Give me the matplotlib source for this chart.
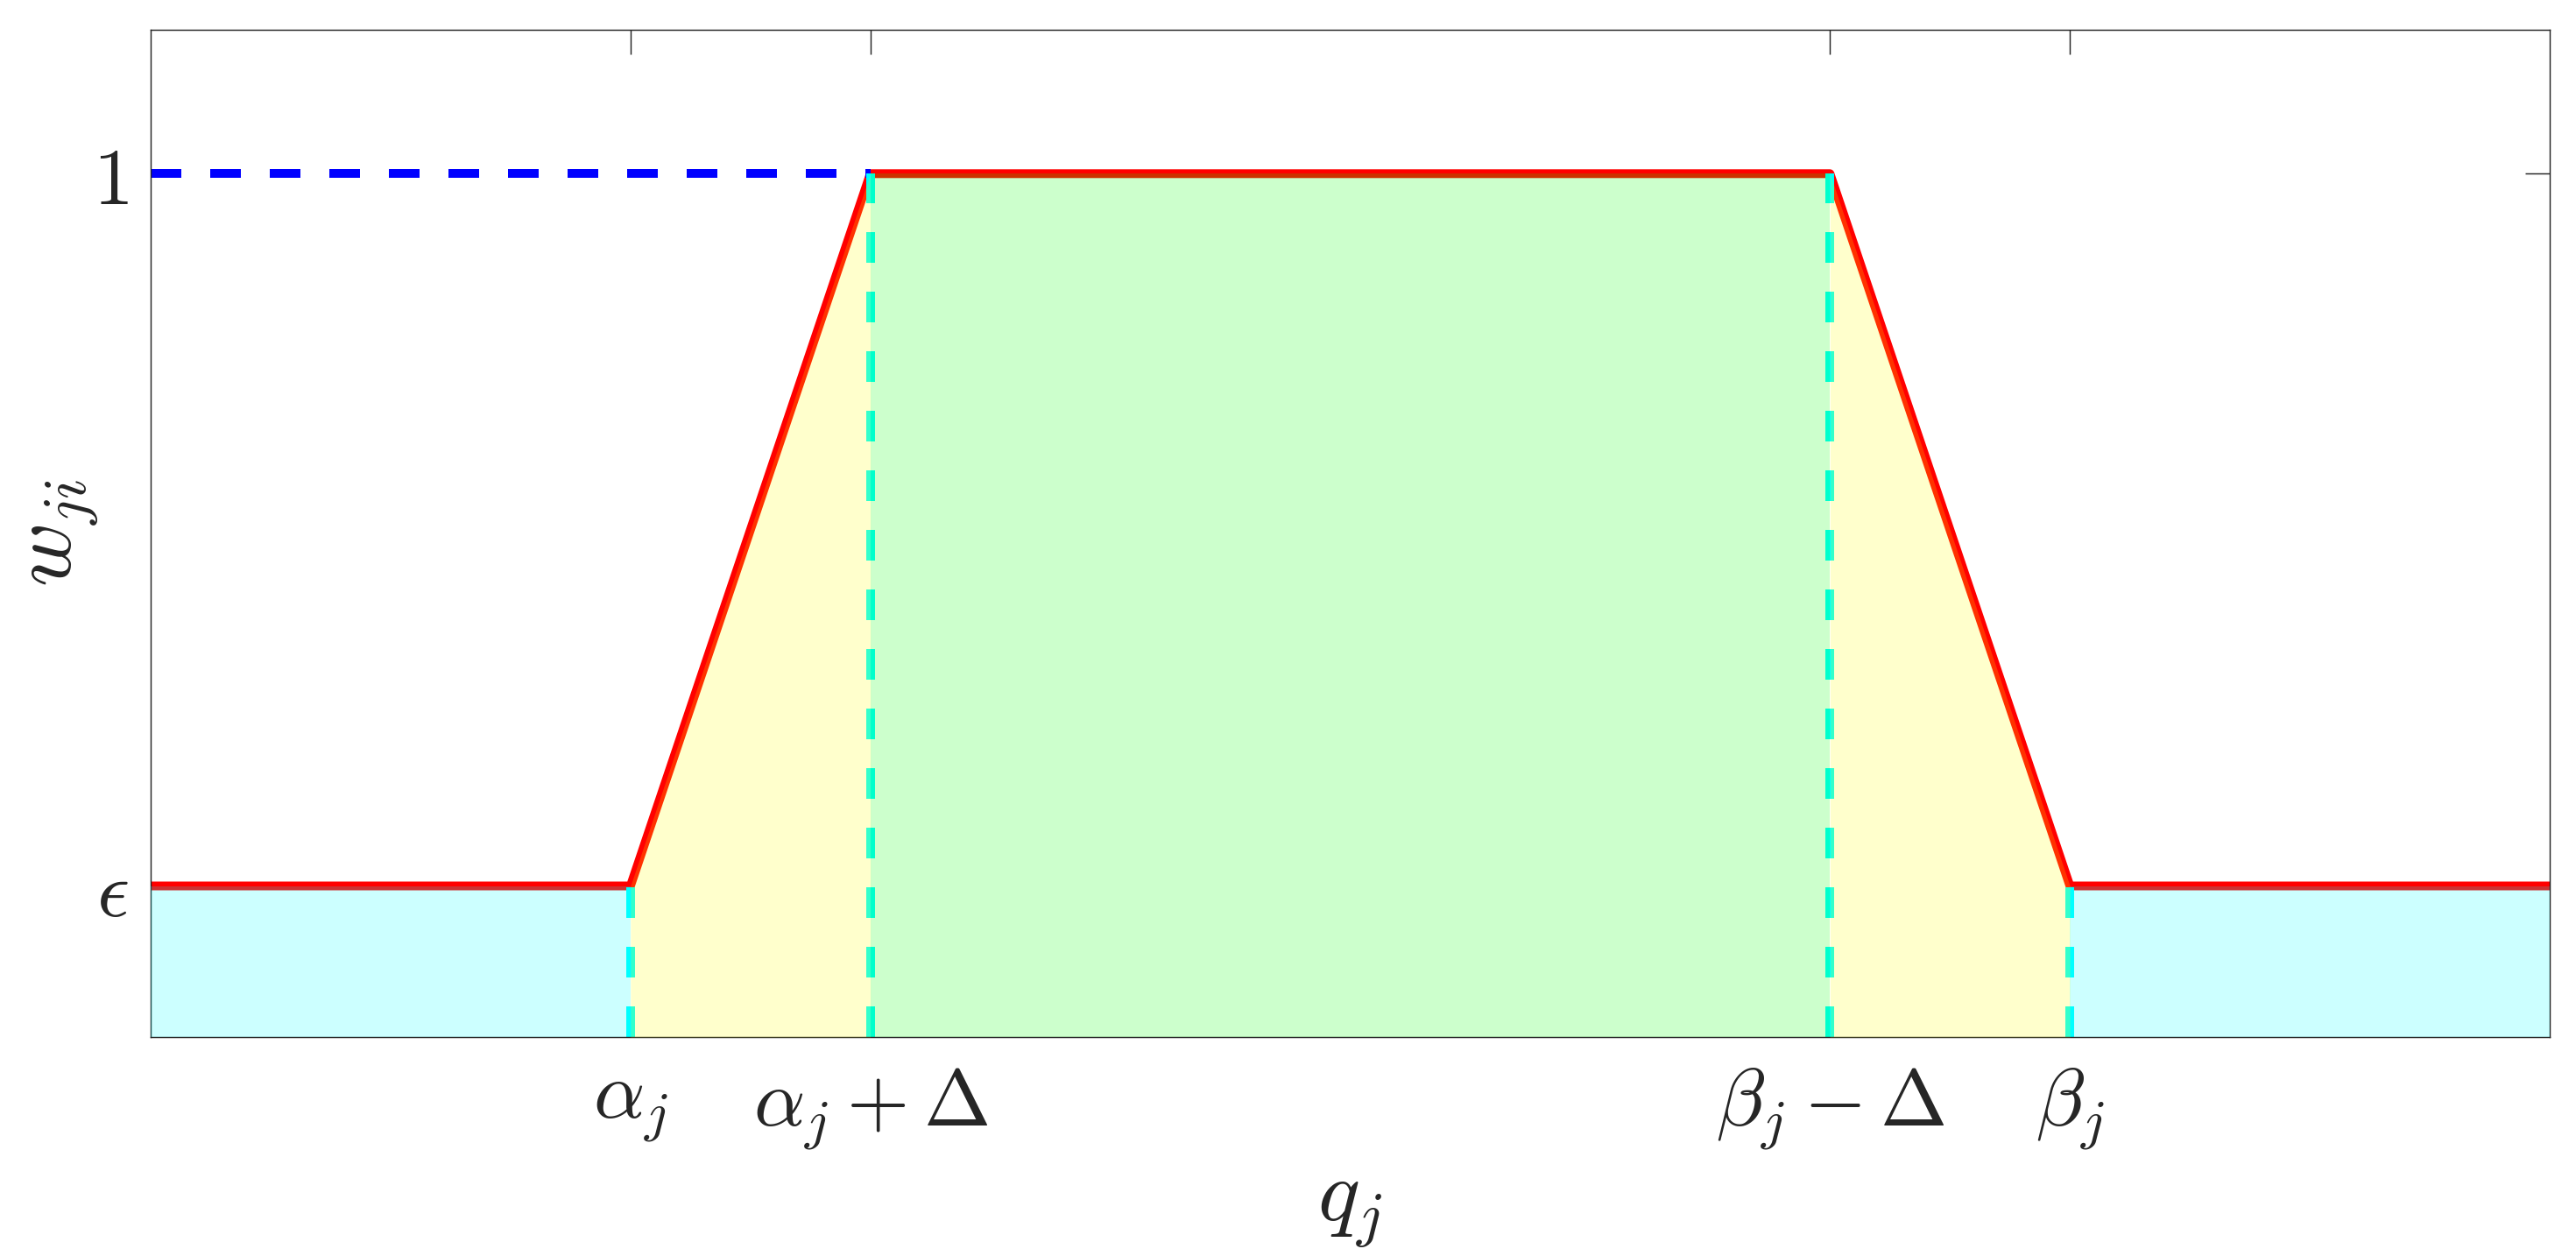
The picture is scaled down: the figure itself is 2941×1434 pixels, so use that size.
import matplotlib
matplotlib.use("Agg")
import matplotlib.pyplot as plt
import numpy as np

plt.rcParams['mathtext.fontset'] = 'cm'
plt.rcParams['font.family'] = ['DejaVu Serif']

# weight function parameters
x_lim = [0.0, 1.0]
y_lim = [-0.2, 1.2]
alpha_j = 0.2
delta = 0.1
beta_j = 0.8
eps = 0.01

# piecewise-linear weight curve
q_pts = [x_lim[0], alpha_j, alpha_j + delta, beta_j - delta, beta_j, x_lim[1]]
w_pts = [eps, eps, 1.0, 1.0, eps, eps]

xtick_vals = [alpha_j, alpha_j + delta, beta_j - delta, beta_j]
xtick_labels = [r'$\alpha_j$', r'$\alpha_j+\Delta$', r'$\beta_j-\Delta$', r'$\beta_j$']
ytick_vals = [eps, 1.0]
ytick_labels = [r'$\epsilon\!$', r'$1$']

text_col = '#262626'

fig = plt.figure(figsize=(2941 / 300, 1434 / 300), dpi=300)
ax = fig.add_axes([172 / 2941, 1 - 1184 / 1434, (2911 - 172) / 2941, (1184 - 34) / 1434])

# main curve
ax.plot(q_pts, w_pts, color='red', lw=2.4, zorder=2)

# blue reference line at w = 1
ax.plot([x_lim[0], alpha_j + delta], [1.0, 1.0], color='blue', lw=2.4,
        dashes=(3.5, 3.3), zorder=2)

# vertical guides
for xv, top in zip(xtick_vals, [eps, 1.0, 1.0, eps]):
    ax.plot([xv, xv], [y_lim[0], top], color='cyan', lw=2.4,
            dashes=(3.5, 3.3), zorder=2)

# shaded regions
regions = [
    ([q_pts[0], q_pts[1]], [w_pts[0], w_pts[1]], 'cyan'),
    ([q_pts[1], q_pts[2]], [w_pts[1], w_pts[2]], 'yellow'),
    ([q_pts[2], q_pts[3]], [w_pts[2], w_pts[3]], 'lime'),
    ([q_pts[3], q_pts[4]], [w_pts[3], w_pts[4]], 'yellow'),
    ([q_pts[4], q_pts[5]], [w_pts[4], w_pts[5]], 'cyan'),
]
for xs, ys, c in regions:
    ax.fill_between(xs, ys, y_lim[0], color=c, alpha=0.2, lw=0, zorder=3)

ax.set_xlim(x_lim)
ax.set_ylim(y_lim)

ax.set_xticks(xtick_vals)
ax.set_xticklabels(xtick_labels)
ax.set_yticks(ytick_vals)
ax.set_yticklabels(ytick_labels)

ax.tick_params(axis='both', direction='in', length=6.7, width=0.35,
               color=text_col, labelcolor=text_col, labelsize=22,
               top=True, right=True)
ax.tick_params(axis='x', pad=8)
ax.tick_params(axis='y', pad=6)

for s in ax.spines.values():
    s.set_linewidth(0.35)
    s.set_color(text_col)

ax.set_xlabel(r'$q_j$', fontsize=24, color=text_col)
ax.set_ylabel(r'$w_{ji}$', fontsize=24, color=text_col)
ax.xaxis.set_label_coords(0.5, -0.127)
ax.yaxis.set_label_coords(-0.021, 0.5)

fig.savefig('out.png', dpi=300)
